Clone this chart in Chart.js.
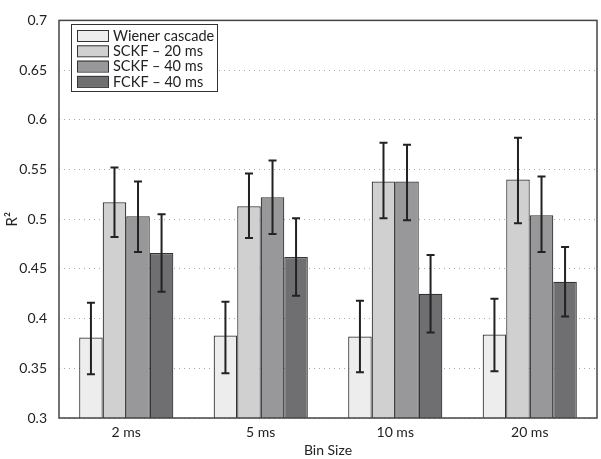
<!DOCTYPE html>
<html>
<head>
<meta charset="utf-8">
<script src="https://cdn.jsdelivr.net/npm/chart.js@4"></script>
<style>
  html, body { margin: 0; padding: 0; background: #fff; }
  #wrap { width: 601px; height: 459px; }
</style>
</head>
<body>
<div id="wrap"><canvas id="c" width="601" height="459"></canvas></div>
<script>
// data
const binSizes = ['2 ms', '5 ms', '10 ms', '20 ms'];
const seriesNames = ['Wiener cascade', 'SCKF \u2013 20 ms', 'SCKF \u2013 40 ms', 'FCKF \u2013 40 ms'];
const wiener = [0.381, 0.383, 0.382, 0.384];
const sckf20 = [0.517, 0.513, 0.538, 0.540];
const sckf40 = [0.503, 0.522, 0.538, 0.504];
const fckf40 = [0.466, 0.462, 0.425, 0.437];
// error bar ends (upper / lower)
const wienerHi = [0.416, 0.417, 0.418, 0.420];
const wienerLo = [0.344, 0.345, 0.346, 0.347];
const sckf20Hi = [0.552, 0.546, 0.577, 0.582];
const sckf20Lo = [0.482, 0.481, 0.501, 0.496];
const sckf40Hi = [0.538, 0.559, 0.575, 0.543];
const sckf40Lo = [0.467, 0.485, 0.499, 0.467];
const fckf40Hi = [0.505, 0.501, 0.464, 0.472];
const fckf40Lo = [0.427, 0.423, 0.386, 0.402];

const fills = ['#ededed', '#d0d0d1', '#98989a', '#6f6f71'];
const edge = '#333333';
const fontFam = 'Lato, "Open Sans", sans-serif';

const values = [wiener, sckf20, sckf40, fckf40];
const highs = [wienerHi, sckf20Hi, sckf40Hi, fckf40Hi];
const lows = [wienerLo, sckf20Lo, sckf40Lo, fckf40Lo];

// error bars, drawn on top of the bars
const errorBars = {
  id: 'errorBars',
  afterDatasetsDraw(chart) {
    const ctx = chart.ctx;
    const y = chart.scales.y;
    ctx.save();
    ctx.strokeStyle = '#222';
    ctx.lineWidth = 2;
    chart.data.datasets.forEach((ds, i) => {
      chart.getDatasetMeta(i).data.forEach((bar, j) => {
        const x = bar.x;
        const top = y.getPixelForValue(highs[i][j]);
        const bot = y.getPixelForValue(lows[i][j]);
        ctx.beginPath();
        ctx.moveTo(x, top); ctx.lineTo(x, bot);
        ctx.moveTo(x - 4, top); ctx.lineTo(x + 4, top);
        ctx.moveTo(x - 4, bot); ctx.lineTo(x + 4, bot);
        ctx.stroke();
      });
    });
    ctx.restore();
  }
};

// box around the plot plus a boxed legend inside it
const frameAndLegend = {
  id: 'frameAndLegend',
  afterDraw(chart) {
    const ctx = chart.ctx;
    const a = chart.chartArea;
    ctx.save();
    ctx.strokeStyle = '#444';
    ctx.lineWidth = 1.5;
    ctx.strokeRect(a.left, a.top, a.right - a.left, a.bottom - a.top);

    // legend
    const lx = 71, ly = 24, lw = 146, lh = 67;
    ctx.fillStyle = '#fff';
    ctx.fillRect(lx, ly, lw, lh);
    ctx.lineWidth = 1;
    ctx.strokeStyle = '#333';
    ctx.strokeRect(lx + 0.5, ly + 0.5, lw, lh);
    ctx.font = '14.5px ' + fontFam;
    ctx.textBaseline = 'middle';
    chart.data.datasets.forEach((ds, i) => {
      const rowY = ly + 11 + i * 15.3;
      ctx.fillStyle = ds.backgroundColor;
      ctx.fillRect(lx + 6, rowY - 5, 31, 11);
      ctx.strokeStyle = edge;
      ctx.strokeRect(lx + 6.5, rowY - 4.5, 31, 11);
      ctx.fillStyle = '#222';
      ctx.fillText(ds.label, lx + 42, rowY + 1);
    });
    ctx.restore();
  }
};

new Chart(document.getElementById('c'), {
  type: 'bar',
  data: {
    labels: binSizes,
    datasets: values.map((v, i) => ({
      label: seriesNames[i],
      data: v,
      backgroundColor: fills[i],
      borderColor: edge,
      borderWidth: 1.2,
      categoryPercentage: 0.7,
      barPercentage: 1.0
    }))
  },
  options: {
    responsive: false,
    animation: false,
    layout: { padding: { top: 11, right: 4, left: 3, bottom: 0 } },
    plugins: {
      legend: { display: false },
      tooltip: { enabled: false }
    },
    scales: {
      x: {
        grid: { display: false, drawTicks: false },
        border: { display: false },
        ticks: { color: '#222', font: { family: fontFam, size: 14 }, padding: 6 },
        title: { display: true, text: 'Bin Size', color: '#222', font: { family: fontFam, size: 14 }, padding: { top: 0, bottom: 0 } },
        afterFit(s) { s.height = 41; }
      },
      y: {
        min: 0.3,
        max: 0.7,
        grid: { color: '#a8a8a8', lineWidth: 1, drawTicks: false },
        border: { display: false, dash: [1, 4] },
        ticks: {
          stepSize: 0.05,
          color: '#222',
          padding: 12,
          font: { family: fontFam, size: 14 },
          callback: v => +v.toFixed(2) + ''
        },
        title: { display: true, text: 'R\u00b2', color: '#222', font: { family: fontFam, size: 15 }, padding: { top: 0, bottom: 0 } },
        afterFit(s) { s.width = 56; }
      }
    }
  },
  plugins: [errorBars, frameAndLegend]
});
</script>
</body>
</html>
